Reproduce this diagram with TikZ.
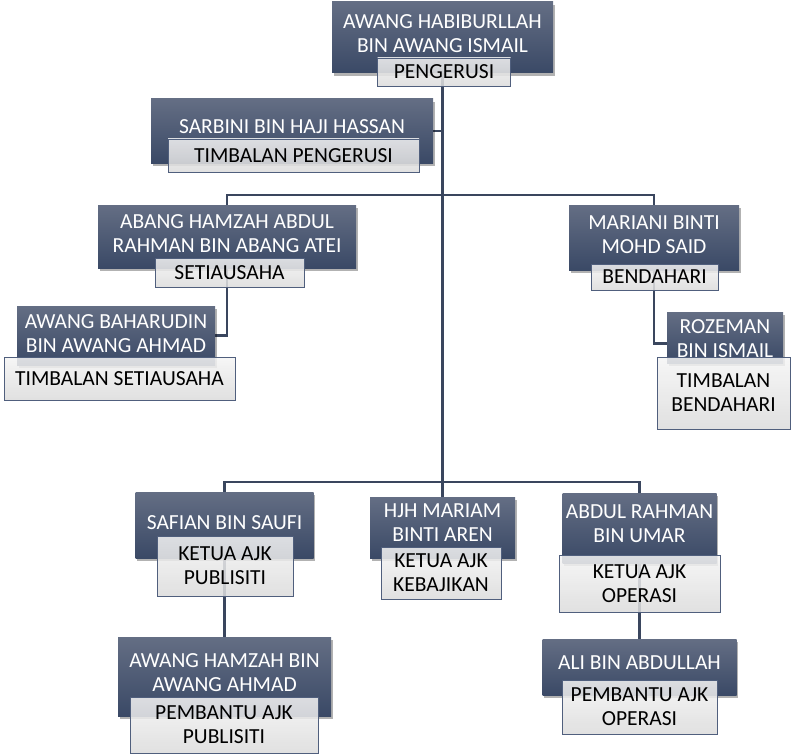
\documentclass[tikz,border=0pt]{standalone}
\usepackage{fontspec}
\setmainfont{Carlito}
\usetikzlibrary{shadows,backgrounds}
\definecolor{slatetop}{RGB}{100,110,132}
\definecolor{slatebot}{RGB}{58,73,102}
\definecolor{linkcol}{RGB}{58,70,94}
\definecolor{roleedge}{RGB}{80,95,125}

\begin{document}
\begin{tikzpicture}[x=1pt, y=-1pt,
  namebox/.style={top color=slatetop, bottom color=slatebot, draw=none, inner sep=0pt,
    drop shadow={shadow xshift=1.5pt, shadow yshift=-3pt, opacity=0.3, fill=black}},
  nametext/.style={text=white, align=center, inner sep=0pt, font=\fontsize{21.5}{24}\selectfont},
  rolebox/.style={top color=black!4, bottom color=black!14, fill opacity=0.86, text opacity=1,
    draw=roleedge, line width=0.8pt, align=center, inner sep=0pt, font=\fontsize{21.5}{24}\selectfont},
  link/.style={draw=linkcol, line width=2.6pt}]
\useasboundingbox (0,0) rectangle (791,754);

\node[namebox, minimum width=221pt, minimum height=71pt] (chair) at (442.5,37.5) {};
\node[nametext] (chairN) at (442.5,34) {AWANG HABIBURLLAH\\BIN AWANG ISMAIL};
\node[rolebox, minimum width=133pt, minimum height=28pt] (chairR) at (444,72) {PENGERUSI};

\node[namebox, minimum width=282pt, minimum height=64pt] (sarbini) at (292,131) {};
\node[nametext] (sarbiniN) at (292,127) {SARBINI BIN HAJI HASSAN};
\node[rolebox, minimum width=251pt, minimum height=33pt] (sarbiniR) at (293.5,155.5) {TIMBALAN PENGERUSI};

\node[namebox, minimum width=258pt, minimum height=63pt] (abang) at (227,236.5) {};
\node[nametext] (abangN) at (227,234) {ABANG HAMZAH ABDUL\\RAHMAN BIN ABANG ATEI};
\node[rolebox, minimum width=149pt, minimum height=29pt] (abangR) at (229.5,272.5) {SETIAUSAHA};

\node[namebox, minimum width=198pt, minimum height=59pt] (baharudin) at (116,335.5) {};
\node[nametext] (baharudinN) at (116,334) {AWANG BAHARUDIN\\BIN AWANG AHMAD};
\node[rolebox, minimum width=231pt, minimum height=43pt] (baharudinR) at (119.5,378.5) {TIMBALAN SETIAUSAHA};

\node[namebox, minimum width=170pt, minimum height=65pt] (mariani) at (654,237.5) {};
\node[nametext] (marianiN) at (654,235) {MARIANI BINTI\\MOHD SAID};
\node[rolebox, minimum width=127pt, minimum height=26pt] (marianiR) at (654.5,277) {BENDAHARI};

\node[namebox, minimum width=116pt, minimum height=51pt] (rozeman) at (725,337.5) {};
\node[nametext] (rozemanN) at (725,338.5) {ROZEMAN\\BIN ISMAIL};
\node[rolebox, minimum width=133pt, minimum height=72pt] (rozemanR) at (723.5,393) {TIMBALAN\\BENDAHARI};

\node[namebox, minimum width=178pt, minimum height=66pt] (safian) at (224.5,525) {};
\node[nametext] (safianN) at (224.5,523) {SAFIAN BIN SAUFI};
\node[rolebox, minimum width=136pt, minimum height=60pt] (safianR) at (225,566) {KETUA AJK\\PUBLISITI};

\node[namebox, minimum width=145pt, minimum height=61pt] (mariam) at (442.5,527.5) {};
\node[nametext] (mariamN) at (442.5,523) {HJH MARIAM\\BINTI AREN};
\node[rolebox, minimum width=120pt, minimum height=52pt] (mariamR) at (441,573) {KETUA AJK\\KEBAJIKAN};

\node[namebox, minimum width=154pt, minimum height=70pt] (abdul) at (639.5,528) {};
\node[nametext] (abdulN) at (639.5,524) {ABDUL RAHMAN\\BIN UMAR};
\node[rolebox, minimum width=161pt, minimum height=57pt] (abdulR) at (639.5,583.5) {KETUA AJK\\OPERASI};

\node[namebox, minimum width=213pt, minimum height=79pt] (hamzah) at (224.5,676.5) {};
\node[nametext] (hamzahN) at (224.5,672.5) {AWANG HAMZAH BIN\\AWANG AHMAD};
\node[rolebox, minimum width=188pt, minimum height=56pt] (hamzahR) at (224,725) {PEMBANTU AJK\\PUBLISITI};

\node[namebox, minimum width=194pt, minimum height=56pt] (ali) at (639.5,667) {};
\node[nametext] (aliN) at (639.5,663) {ALI BIN ABDULLAH};
\node[rolebox, minimum width=155pt, minimum height=54pt] (aliR) at (639.5,707) {PEMBANTU AJK\\OPERASI};

\coordinate (topfork) at (442.5,195);
\coordinate (lowfork) at (442.5,482);

\begin{scope}[on background layer]
\draw[link] (chair) -- (mariam);
\draw[link] (sarbini.east) -- (sarbini.east -| chair);
\draw[link] (abang.north) |- (topfork) -| (mariani.north);
\draw[link] (abang) |- (baharudin.east);
\draw[link] (mariani) |- ([yshift=-6pt]rozeman.west);
\draw[link] (safian.north) |- (lowfork) -| (abdul.north);
\draw[link] (safian) -- (hamzah);
\draw[link] (abdul) -- (ali);
\end{scope}
\end{tikzpicture}
\end{document}
